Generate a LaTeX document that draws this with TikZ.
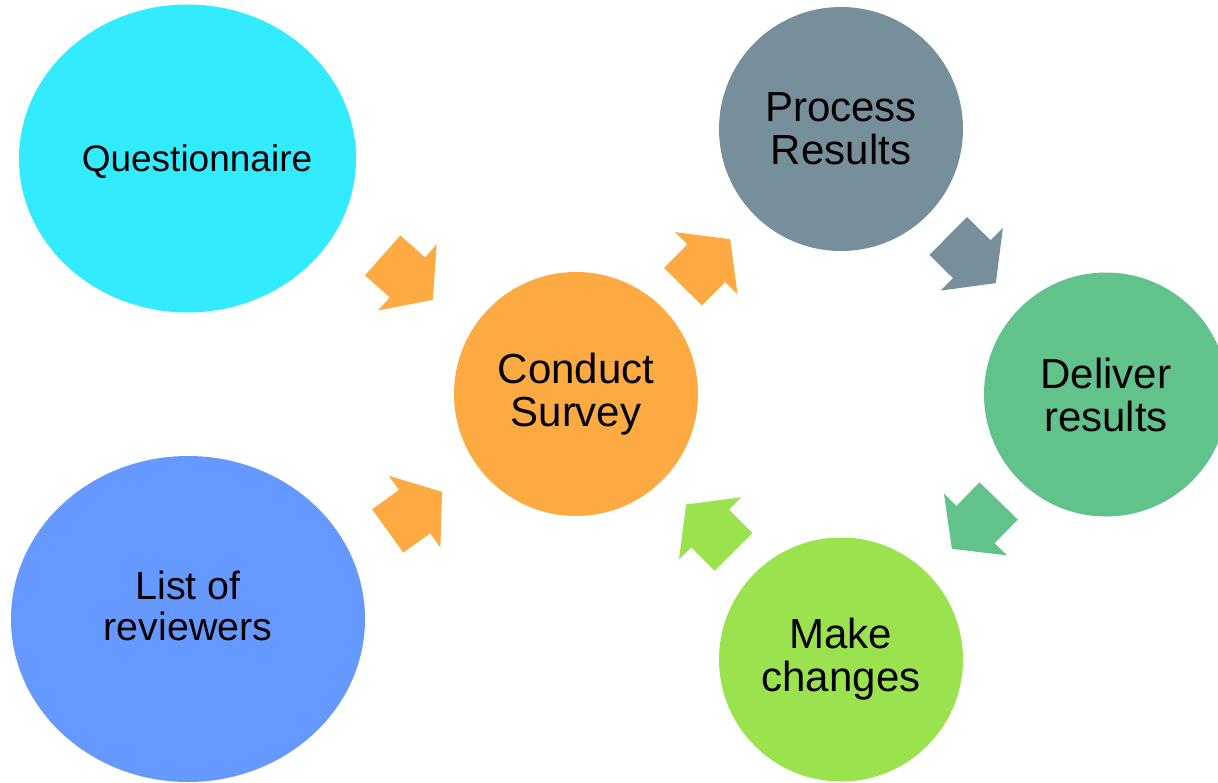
\documentclass[tikz,border=0pt]{standalone}
\usepackage{fontspec}
\setmainfont{Liberation Sans}
\usetikzlibrary{shapes.geometric,shapes.arrows}
\definecolor{qcyan}{HTML}{33EBFF}
\definecolor{rblue}{HTML}{6699FF}
\definecolor{sorange}{HTML}{FDAA43}
\definecolor{pgray}{HTML}{778F9A}
\definecolor{dgreen}{HTML}{62C28B}
\definecolor{mgreen}{HTML}{9BE24F}

\begin{document}
\begin{tikzpicture}[x=1pt,y=-1pt,
    blob/.style={circle,inner sep=0pt,minimum size=244pt,align=center,font=\fontsize{42}{43}\selectfont},
    oval/.style={ellipse,inner sep=0pt},
    txt/.style={align=center,inner sep=0pt},
    blk/.style={single arrow,anchor=tip,inner xsep=0pt,inner ysep=26.5pt,minimum height=67pt,
      single arrow head extend=17.5pt,single arrow tip angle=105}]
  \useasboundingbox (0,0) rectangle (1218,782);
  % inputs
  \node [oval,fill=qcyan,minimum width=337pt,minimum height=308pt] (quest) at (187.5,158.5) {};
  \node [txt,font=\fontsize{37}{38}\selectfont] (questtxt) at (197,162) {Questionnaire};
  \node [oval,fill=rblue,minimum width=354pt,minimum height=326pt] (revs) at (188,619) {};
  \node [txt,font=\fontsize{39.4}{41}\selectfont] (revstxt) at (188,606) {List of\\reviewers};
  % cycle
  \node [blob,fill=sorange] (survey) at (576,394) {Conduct\\Survey};
  \node [blob,fill=pgray] (process) at (841,129) {Process\\Results};
  \node [blob,fill=dgreen] (deliver) at (1106,394.5) {Deliver\\results};
  \node [blob,fill=mgreen] (changes) at (841,659.5) {Make\\changes};
  % arrows
  \node [blk,fill=sorange,rotate=-41.5] (a1) at (433,300) {};
  \node [blk,fill=sorange,rotate=35.7] (a2) at (442.3,491.7) {};
  \node [blk,fill=sorange,rotate=45.2] (a3) at (730.3,239) {};
  \node [blk,fill=mgreen,rotate=135] (a4) at (686,504.3) {};
  \node [blk,fill=pgray,rotate=-44.8] (a5) at (996,283.3) {};
  \node [blk,fill=dgreen,rotate=-134.3] (a6) at (951.7,549) {};
\end{tikzpicture}
\end{document}
